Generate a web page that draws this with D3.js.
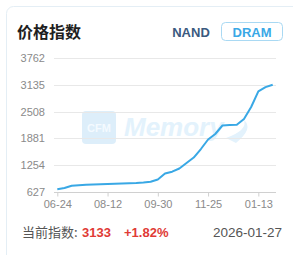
<!DOCTYPE html>
<html><head><meta charset="utf-8">
<script src="https://cdn.jsdelivr.net/npm/d3@7"></script>
<style>
html,body{margin:0;padding:0;background:#fff;overflow:hidden;}
svg{display:block;}
</style></head>
<body><svg id="c" width="293" height="255"></svg>
<script>
const dates = ["06-24","07-01","07-08","07-15","07-22","07-29","08-05","08-12","08-19","08-26","09-02","09-09","09-16","09-23","09-30","10-14","10-21","10-28","11-04","11-11","11-18","11-25","12-02","12-09","12-16","12-23","12-30","01-06","01-13","01-20","01-27"];
const values = [697,727,778,790,802,809,816,820,827,834,839,844,853,872,925,1065,1107,1181,1309,1437,1635,1857,1985,2183,2194,2201,2334,2614,2979,3077,3133];
const yTicks = [627,1254,1881,2508,3135,3762];
const xTickLabels = ["06-24","08-12","09-30","11-25","01-13"];
const title = "价格指数";
const tabs = ["NAND","DRAM"];
const footer = {label:"当前指数:", value:"3133", change:"+1.82%", date:"2026-01-27"};

const svg = d3.select("#c");
const cjk = "'Noto Sans CJK SC','Noto Sans',sans-serif";
const lat = "'Liberation Sans',Arial,sans-serif";

// card
svg.append("rect").attr("x",6.5).attr("y",6.5).attr("width",320).attr("height",320)
  .attr("rx",7).attr("fill","#fff").attr("stroke","#e4eef5").attr("stroke-width",1);

// title
svg.append("text").attr("x",17).attr("y",38).text(title)
  .attr("font-family",cjk).attr("font-weight","bold").attr("font-size",16).attr("fill","#1f1f1f");

// tabs
svg.append("text").attr("x",191).attr("y",37).attr("text-anchor","middle").text(tabs[0])
  .attr("font-family",lat).attr("font-weight","bold").attr("font-size",13).attr("fill","#3b5a80");
svg.append("rect").attr("x",221.5).attr("y",22.5).attr("width",61).attr("height",18).attr("rx",4)
  .attr("fill","#fff").attr("stroke","#a9d9f3").attr("stroke-width",1);
svg.append("text").attr("x",252).attr("y",37).attr("text-anchor","middle").text(tabs[1])
  .attr("font-family",lat).attr("font-weight","bold").attr("font-size",13).attr("fill","#3aa8e6");

// scales
const x = d3.scalePoint().domain(dates).range([57.3,272.7]);
const y = d3.scaleLinear().domain([627,3762]).range([192.3,57.7]);

// watermark
const wm = svg.append("g");
wm.append("rect").attr("x",82).attr("y",111).attr("width",34).attr("height",33).attr("rx",4).attr("fill","#ddeefa");
wm.append("text").attr("x",99).attr("y",131.5).attr("text-anchor","middle").text("CFM")
  .attr("font-family",lat).attr("font-weight","bold").attr("font-size",11).attr("fill","#f4faff");
wm.append("text").attr("x",124).attr("y",136).text("Memory")
  .attr("font-family",lat).attr("font-weight","bold").attr("font-style","italic").attr("font-size",26).attr("fill","#e3f2fc");
wm.append("path").attr("d","M226,138 Q248,130 244,120 Q254,128 236,143 Z").attr("fill","#e3f2fc");

// grid
svg.append("g").selectAll("line").data(yTicks).join("line")
  .attr("x1",54).attr("x2",276).attr("y1",d=>Math.round(y(d))+0.5).attr("y2",d=>Math.round(y(d))+0.5)
  .attr("stroke",d=>d===627?"#d0d0d0":"#e8e8e8").attr("stroke-width",1);

// y labels
svg.append("g").selectAll("text").data(yTicks).join("text")
  .attr("x",45).attr("y",d=>y(d)+4).attr("text-anchor","end").text(d=>d)
  .attr("font-family",lat).attr("font-size",11).attr("fill","#8a8a8a");

// x axis
const xa = d3.axisBottom(x).tickValues(xTickLabels).tickSize(4).tickPadding(4);
const gx = svg.append("g").attr("transform","translate(0,"+(Math.round(y(627))+0.5)+")").call(xa);
gx.select(".domain").remove();
gx.selectAll(".tick line").attr("stroke","#d0d0d0");
gx.selectAll(".tick text").attr("font-family",lat).attr("font-size",11).attr("fill","#8a8a8a");

// line
svg.append("path").datum(values)
  .attr("d",d3.line().x((d,i)=>x(dates[i])).y(d=>y(d)))
  .attr("fill","none").attr("stroke","#39a8e5").attr("stroke-width",2).attr("stroke-linejoin","round");

// footer
const ft = svg.append("text").attr("y",237).attr("font-size",13);
ft.append("tspan").attr("x",22).text(footer.label).attr("font-family",cjk).attr("fill","#555");
ft.append("tspan").attr("x",82).text(footer.value).attr("font-family",lat).attr("font-weight","bold").attr("fill","#e03a36");
ft.append("tspan").attr("x",124).text(footer.change).attr("font-family",lat).attr("font-weight","bold").attr("fill","#e03a36");
svg.append("text").attr("x",282).attr("y",237).attr("text-anchor","end").text(footer.date)
  .attr("font-family",lat).attr("font-size",13.5).attr("fill","#555");
</script></body></html>
